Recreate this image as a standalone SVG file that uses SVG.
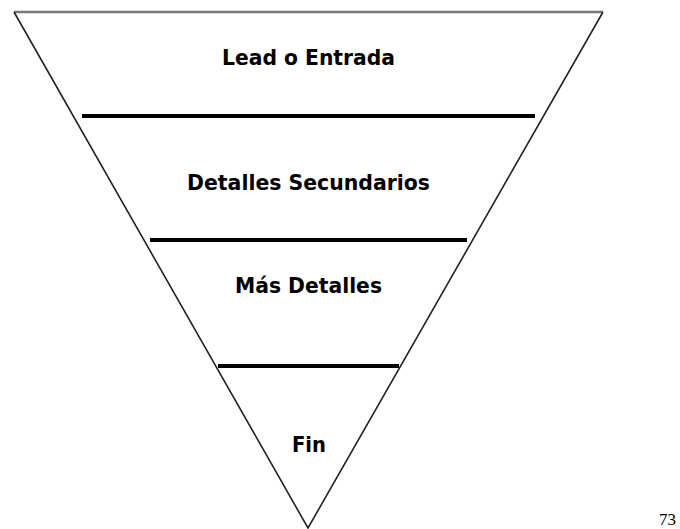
<svg xmlns="http://www.w3.org/2000/svg" width="680" height="529" viewBox="0 0 680 529">
<style>
.lbl{font-family:"DejaVu Sans Condensed","DejaVu Sans",sans-serif;font-weight:bold;font-size:22px;fill:#000;text-anchor:middle}
.div{stroke:#000;stroke-width:4;fill:none}
</style>
<rect width="680" height="529" fill="#fff"/>
<g id="funnel">
<line x1="14" y1="12" x2="603" y2="12" stroke="#777" stroke-width="2.5"/>
<polyline points="14,12 308,528 603,12" fill="none" stroke="#222" stroke-width="1.6"/>
</g>
<g id="dividers">
<line class="div" x1="82" y1="116" x2="535" y2="116"/>
<line class="div" x1="150" y1="240" x2="467" y2="240"/>
<line class="div" x1="218" y1="366" x2="399" y2="366"/>
</g>
<g id="lead"><text class="lbl" x="308.5" y="65" textLength="173" lengthAdjust="spacingAndGlyphs">Lead o Entrada</text></g>
<g id="secundarios"><text class="lbl" x="308.5" y="190" textLength="243" lengthAdjust="spacingAndGlyphs">Detalles Secundarios</text></g>
<g id="mas"><text class="lbl" x="308.5" y="293" textLength="147" lengthAdjust="spacingAndGlyphs">Más Detalles</text></g>
<g id="fin"><text class="lbl" x="309" y="452" textLength="34" lengthAdjust="spacingAndGlyphs">Fin</text></g>
<text x="659" y="525" font-family="Liberation Serif,serif" font-size="17" fill="#000">73</text>
</svg>
